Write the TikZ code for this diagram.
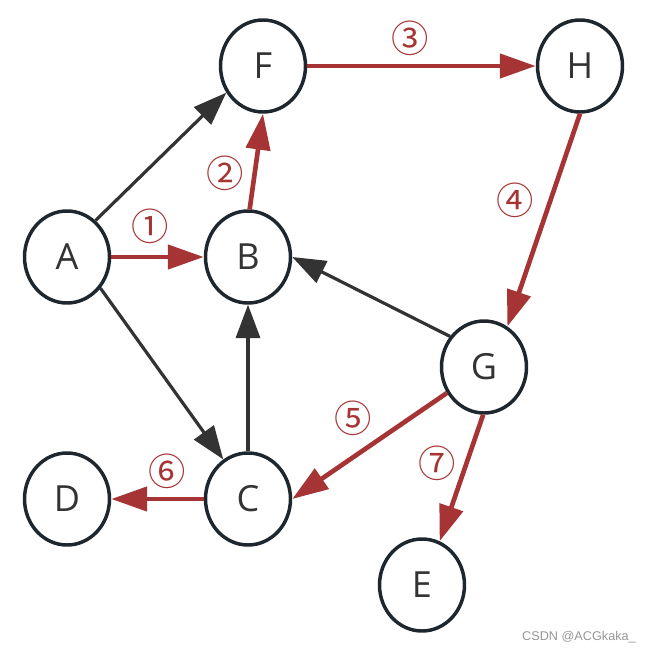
\documentclass[tikz,border=0pt]{standalone}
\usepackage{fontspec}
\setmainfont{Open Sans}
\newfontfamily\cjkfont{Noto Sans CJK SC}
\newfontfamily\wmfont{Liberation Sans}
\usetikzlibrary{shapes.geometric,arrows.meta}
\definecolor{edgered}{RGB}{166,52,52}
\definecolor{edgeblack}{RGB}{51,51,51}
\definecolor{nodeline}{RGB}{30,38,46}
\definecolor{lettergray}{RGB}{51,51,51}
\definecolor{wmgray}{RGB}{150,150,150}
\begin{document}
\begin{tikzpicture}[x=0.75pt,y=-0.75pt,
  vertex/.style={ellipse,draw=nodeline,line width=2.6pt,minimum width=63.75pt,minimum height=69pt,inner sep=0pt,text=lettergray,font=\fontsize{27}{30}\selectfont},
  redarrow/.style={draw=edgered,line width=3.5pt,-{Triangle[length=27pt,width=18pt]}},
  blackarrow/.style={draw=edgeblack,line width=2.4pt,-{Triangle[length=25pt,width=18pt]}},
  steplabel/.style={text=edgered,font=\cjkfont\fontsize{28}{30}\selectfont,inner sep=0pt},
  watermark/.style={text=wmgray,font=\wmfont\fontsize{9.5}{11}\selectfont,inner sep=0pt}]
\useasboundingbox (0,0) rectangle (651,653);
\node[vertex] (A) at (67,257) {A};
\node[vertex] (B) at (248,257) {B};
\node[vertex] (F) at (263,66) {F};
\node[vertex] (H) at (580,66) {H};
\node[vertex] (G) at (484,367) {G};
\node[vertex] (C) at (248,499) {C};
\node[vertex] (D) at (67,499) {D};
\node[vertex] (E) at (422,585) {E};
% black edges
\draw[blackarrow] (A.52) -- (F.216);
\draw[blackarrow] (A.-43) -- (C.122);
\draw[blackarrow] (C.north) -- (B.south);
\draw[blackarrow] (G.138) -- (B.east);
% red edges
\draw[redarrow] (A.east) -- (B.west);
\draw[redarrow] (B.88) -- (F.-90);
\draw[redarrow] (F.east) -- (H.west);
\draw[redarrow] (H.south) -- (G.60);
\draw[redarrow] (G.215) -- (C.east);
\draw[redarrow] (C.west) -- (D.east);
\draw[redarrow] (G.-91) -- (E.68);
% step labels
\node[steplabel] (l1) at (150,226) {①};
\node[steplabel] (l2) at (225,173) {②};
\node[steplabel] (l3) at (410,38) {③};
\node[steplabel] (l4) at (515,200) {④};
\node[steplabel] (l5) at (353,418) {⑤};
\node[steplabel] (l6) at (167,471) {⑥};
\node[steplabel] (l7) at (437,463) {⑦};
\node[watermark,anchor=east] (wm) at (636,637) {CSDN @ACGkaka\_};
\end{tikzpicture}
\end{document}
